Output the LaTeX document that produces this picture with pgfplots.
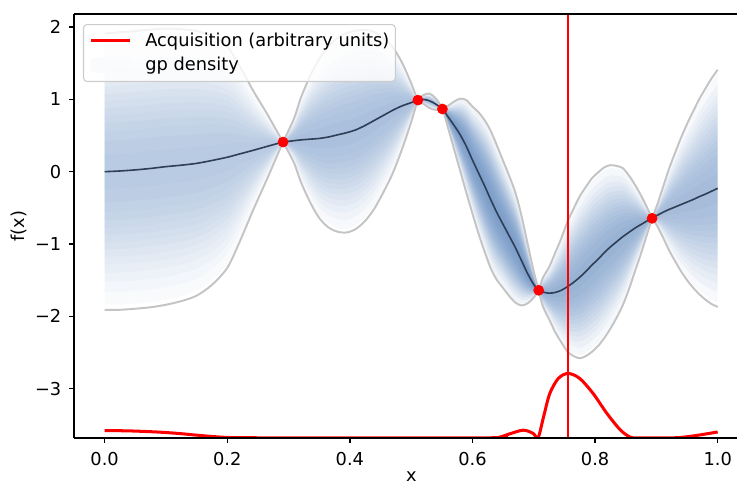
\documentclass[border=0pt]{standalone}
\usepackage{fontspec}
\setmainfont{DejaVu Sans}
\usepackage{pgfplots}
\usepackage{pgfplotstable}
\pgfplotsset{compat=1.18}
\usepgfplotslibrary{fillbetween}

\definecolor{gpblue}{RGB}{60,110,175}
\definecolor{meanc}{RGB}{45,62,85}
\definecolor{bandgray}{RGB}{196,196,196}

% x, posterior mean m, signed half-width d (bounds are m+d and m-d)
\pgfplotstableread{
x m d
0.000 0.000 1.91
0.025 0.010 1.92
0.050 0.025 1.92
0.075 0.045 1.92
0.100 0.070 1.91
0.125 0.090 1.88
0.150 0.115 1.83
0.175 0.155 1.72
0.200 0.200 1.53
0.220 0.245 1.22
0.242 0.295 0.83
0.265 0.350 0.45
0.280 0.385 0.19
0.291 0.410 0.00
0.300 0.420 -0.15
0.310 0.430 -0.33
0.320 0.440 -0.58
0.335 0.450 -0.87
0.350 0.460 -1.10
0.365 0.480 -1.25
0.380 0.510 -1.34
0.395 0.540 -1.38
0.410 0.580 -1.37
0.425 0.640 -1.32
0.440 0.710 -1.22
0.455 0.780 -1.06
0.470 0.850 -0.87
0.485 0.910 -0.60
0.500 0.955 -0.27
0.511 0.990 0.00
0.520 1.000 0.06
0.530 0.980 0.10
0.540 0.935 0.08
0.551 0.867 0.00
0.560 0.760 -0.15
0.570 0.640 -0.33
0.580 0.510 -0.50
0.590 0.350 -0.64
0.600 0.160 -0.74
0.610 -0.020 -0.84
0.620 -0.200 -0.91
0.630 -0.390 -0.95
0.640 -0.570 -0.93
0.650 -0.730 -0.88
0.660 -0.890 -0.83
0.670 -1.050 -0.76
0.680 -1.230 -0.62
0.690 -1.410 -0.41
0.700 -1.560 -0.18
0.708 -1.640 0.00
0.715 -1.665 0.20
0.725 -1.680 0.36
0.735 -1.670 0.55
0.745 -1.640 0.72
0.755 -1.590 0.90
0.765 -1.530 1.02
0.775 -1.460 1.12
0.785 -1.380 1.17
0.795 -1.290 1.20
0.805 -1.210 1.20
0.815 -1.120 1.18
0.825 -1.040 1.13
0.835 -0.970 1.05
0.845 -0.900 0.95
0.855 -0.840 0.79
0.865 -0.780 0.60
0.875 -0.730 0.40
0.885 -0.680 0.18
0.893 -0.645 0.00
0.900 -0.610 -0.12
0.910 -0.565 -0.33
0.920 -0.525 -0.55
0.930 -0.490 -0.74
0.940 -0.455 -0.92
0.950 -0.420 -1.08
0.960 -0.385 -1.22
0.970 -0.345 -1.35
0.980 -0.310 -1.46
0.990 -0.270 -1.56
1.000 -0.230 -1.64
}\gp

\pgfplotstableread{
x a
0.000 -3.580
0.040 -3.585
0.085 -3.600
0.120 -3.620
0.145 -3.640
0.175 -3.662
0.200 -3.675
0.250 -3.680
0.630 -3.680
0.645 -3.670
0.661 -3.625
0.683 -3.575
0.699 -3.620
0.707 -3.680
0.716 -3.390
0.726 -3.070
0.740 -2.860
0.756 -2.790
0.775 -2.860
0.797 -3.070
0.819 -3.340
0.841 -3.570
0.857 -3.670
0.870 -3.680
0.930 -3.680
0.960 -3.655
1.000 -3.600
}\acq

\pgfplotstableread{
x y
0.291 0.410
0.511 0.990
0.551 0.867
0.708 -1.640
0.893 -0.645
}\obs

\newcommand{\segfill}[3]{%
  \addplot[fill=gpblue, fill opacity=#3, draw=none, forget plot] fill between[of=U#1 and L#1, soft clip={domain=#2}];}
\newcommand{\band}[2]{%
  \addplot[draw=none, smooth, forget plot, name path=U#1] table[x=x, y expr=\thisrow{m}+#2*\thisrow{d}] {\gp};
  \addplot[draw=none, smooth, forget plot, name path=L#1] table[x=x, y expr=\thisrow{m}-#2*\thisrow{d}] {\gp};
  \segfill{#1}{-0.05:0.291}{0.031}
  \segfill{#1}{0.291:0.511}{0.040}
  \segfill{#1}{0.511:0.551}{0.045}
  \segfill{#1}{0.551:0.708}{0.075}
  \segfill{#1}{0.708:0.893}{0.052}
  \segfill{#1}{0.893:1.05}{0.042}
}

\begin{document}
\begin{tikzpicture}
\begin{axis}[
  scale only axis, width=372.5pt, height=238.2pt,
  xmin=-0.05, xmax=1.0315, ymin=-3.683, ymax=2.181,
  axis x line*=box, axis y line*=left,
  xtick pos=bottom, ytick pos=left,
  xtick={0,0.2,0.4,0.6,0.8,1}, xticklabels={0.0,0.2,0.4,0.6,0.8,1.0},
  ytick={-3,-2,-1,0,1,2}, yticklabels={−3,−2,−1,0,1,2},
  tick align=outside, major tick length=2.8pt,
  axis line style={line width=0.8pt, black},
  every tick/.style={black, line width=0.8pt},
  xticklabel style={yshift=-1.6pt},
  yticklabel style={xshift=-0.8pt},
  xlabel={x}, ylabel={f(x)},
  xlabel style={at={(axis description cs:0.509,0)}, anchor=center, yshift=-21.5pt},
  ylabel style={at={(axis description cs:-0.0832,0.5)}, anchor=center},
  axis on top,
  legend cell align=left,
  legend style={at={(0.01358,0.9764)}, anchor=north west, draw=black!20, line width=0.6pt,
    rounded corners=2pt, fill=white, fill opacity=0.8, text opacity=1,
    inner xsep=3.4pt, inner ysep=4.6pt, row sep=4.6pt,
    nodes={inner sep=0pt},
    /tikz/every odd column/.append style={column sep=7.7pt}},
]
\band{a}{0.963}
\band{b}{0.872}
\band{c}{0.796}
\band{d}{0.731}
\band{e}{0.671}
\band{f}{0.616}
\band{g}{0.562}
\band{h}{0.511}
\band{i}{0.459}
\band{j}{0.406}
\band{k}{0.351}
\band{l}{0.291}
\band{m}{0.222}
\band{n}{0.126}

\addplot[bandgray, line width=1.1pt, smooth, forget plot] table[x=x, y expr=\thisrow{m}+\thisrow{d}] {\gp};
\addplot[bandgray, line width=1.1pt, smooth, forget plot] table[x=x, y expr=\thisrow{m}-\thisrow{d}] {\gp};
\addplot[meanc, line width=0.9pt, smooth, forget plot] table[x=x, y=m] {\gp};
\addplot[red, only marks, mark=*, mark size=2.8pt, forget plot] table[x=x, y=y] {\obs};
\addplot[red, line width=1.7pt, smooth, forget plot] table[x=x, y=a] {\acq};
\addplot[red, line width=1.4pt, forget plot] coordinates {(0.756,-3.683) (0.756,2.181)};

\addlegendimage{legend image code/.code={\draw[red, line width=1.7pt] (0pt,0pt) -- (21.9pt,0pt);}}
\addlegendentry{Acquisition (arbitrary units)}
\addlegendimage{legend image code/.code={\fill[gpblue!3] (0pt,-4pt) rectangle (21.9pt,4pt);}}
\addlegendentry{gp density}

\coordinate (BL) at (axis description cs:0,0);
\coordinate (TR) at (axis description cs:1,1);
\end{axis}
\pgfresetboundingbox
\path[use as bounding box] ([shift={(-41.57pt,-29.78pt)}]BL) rectangle ([shift={(0pt,7.87pt)}]TR);
\end{tikzpicture}
\end{document}
